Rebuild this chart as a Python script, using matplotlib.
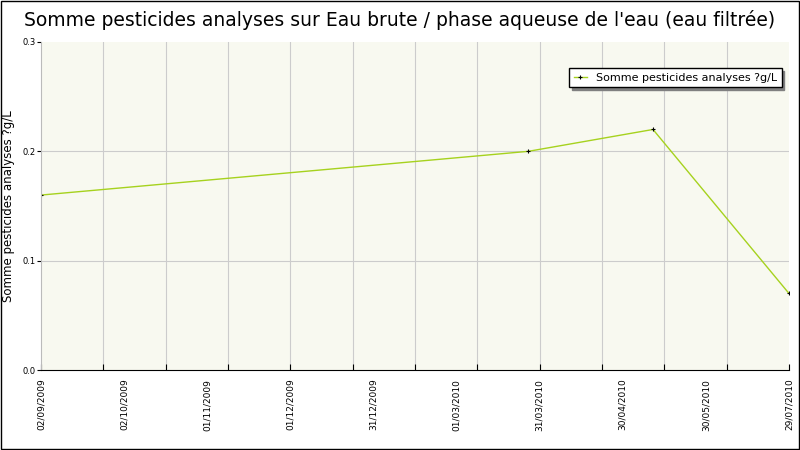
import matplotlib
matplotlib.use("Agg")
import matplotlib.pyplot as plt
from matplotlib.patches import Rectangle

days = [0, 215, 270, 330]
values = [0.16, 0.20, 0.22, 0.07]
tick_labels = ["02/09/2009", "02/10/2009", "01/11/2009", "01/12/2009", "31/12/2009",
               "01/03/2010", "31/03/2010", "30/04/2010", "30/05/2010", "29/07/2010"]

fig = plt.figure(figsize=(8, 4.5), dpi=100)
fig.patches.append(Rectangle((0.001, 0.002), 0.998, 0.996, transform=fig.transFigure,
                             fill=False, edgecolor="black", lw=1))
ax = fig.add_axes([41/800, 1-370/450, 748/800, 328/450])
ax.set_facecolor("#F8F9F0")
ax.plot(days, values, color="#A6D21E", lw=1, marker="+", ms=3, mec="black", mew=0.8,
        label="Somme pesticides analyses ?g/L")
ax.set_xlim(0, 330)
ax.set_ylim(0, 0.3)
ax.set_yticks([0, 0.1, 0.2, 0.3])
ax.set_yticklabels(["0.0", "0.1", "0.2", "0.3"], fontsize=6)
grid_x = [330 * i / 12 for i in range(13)]
ax.set_xticks(grid_x)
ax.set_xticklabels([])
ax.tick_params(axis="x", length=4, direction="in")
ax.tick_params(axis="y", length=3, direction="out", pad=1)
for gx in grid_x[1:-1]:
    ax.axvline(gx, color="#CCCCCC", lw=0.8, zorder=0)
for gy in [0.1, 0.2]:
    ax.axhline(gy, color="#CCCCCC", lw=0.8, zorder=0)
for i, t in enumerate(tick_labels):
    ax.text(330 * i / 9, -0.008, t, rotation=90, ha="center", va="top", fontsize=6.5,
            transform=ax.transData)
for s in ["top", "right"]:
    ax.spines[s].set_visible(False)
ax.spines["left"].set_color("#BBBBBB")
ax.set_ylabel("Somme pesticides analyses ?g/L", fontsize=8.5)
ax.yaxis.set_label_coords(-0.035, 0.5)
fig.text(0.5, 0.955, "Somme pesticides analyses sur Eau brute / phase aqueuse de l'eau (eau filtrée)",
         ha="center", va="center", fontsize=13.5)
leg = ax.legend(loc="upper right", bbox_to_anchor=(0.99, 0.92), fontsize=8, fancybox=False,
                shadow={"color": "#808080", "alpha": 1}, framealpha=1, edgecolor="black",
                handlelength=1.2, borderaxespad=0)
fig.savefig("out.png", dpi=100)
